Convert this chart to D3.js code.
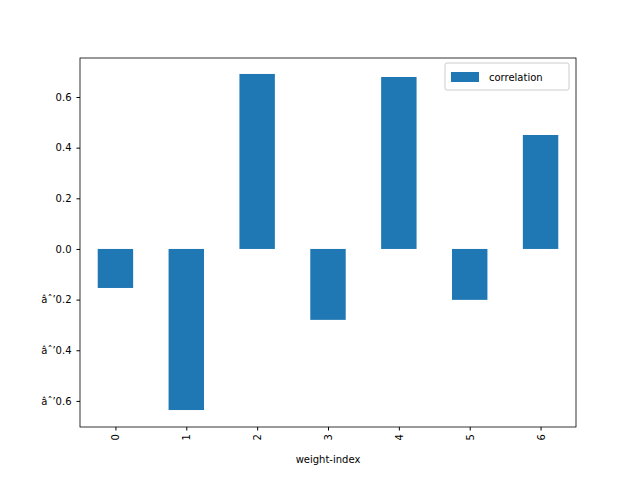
<!DOCTYPE html>
<html>
<head>
<script src="https://cdn.jsdelivr.net/npm/d3@7"></script>
<style>
body { margin: 0; background: #fff; }
text { font-family: "DejaVu Sans", sans-serif; }
</style>
</head>
<body>
<div id="chart"></div>
<script>
var categories = ["0", "1", "2", "3", "4", "5", "6"];
var correlation = [-0.154, -0.636, 0.691, -0.280, 0.679, -0.201, 0.450];
var yTicks = [-0.6, -0.4, -0.2, 0.0, 0.2, 0.4, 0.6];

var width = 640, height = 480;
var margin = { top: 58, right: 64, bottom: 53, left: 80 };
var w = width - margin.left - margin.right;
var h = height - margin.top - margin.bottom;

var svg = d3.select('#chart')
    .append('svg')
    .attr('width', width)
    .attr('height', height);

var g = svg.append('g')
    .attr('transform', 'translate(' + margin.left + ',' + margin.top + ')');

var x = d3.scaleLinear().domain([-0.5, 6.5]).range([0, w]);
var y = d3.scaleLinear().domain([-0.703, 0.754]).range([h, 0]);

g.selectAll('rect.bar')
    .data(correlation)
    .enter()
    .append('rect')
    .attr('class', 'bar')
    .attr('x', (d, i) => x(i - 0.25))
    .attr('width', x(0.25) - x(-0.25))
    .attr('y', d => y(Math.max(0, d)))
    .attr('height', d => Math.abs(y(d) - y(0)))
    .attr('fill', '#1f77b4');

// axes
var yAxis = g.append('g')
    .call(d3.axisLeft(y).tickValues(yTicks).tickFormat(d3.format('.1f')).tickSizeOuter(0).tickSize(3.5).tickPadding(5));
var xAxis = g.append('g')
    .attr('transform', 'translate(0,' + h + ')')
    .call(d3.axisBottom(x).tickValues(d3.range(categories.length)).tickFormat(i => categories[i]).tickSizeOuter(0).tickSize(3.5));
xAxis.selectAll('text')
    .attr('transform', 'rotate(-90)')
    .attr('text-anchor', 'end')
    .attr('x', -7)
    .attr('y', 0)
    .attr('dy', '0.35em');
[yAxis, xAxis].forEach(a => {
    a.select('.domain').remove();
    a.selectAll('text').attr('font-size', 10).attr('fill', '#000').style('font-family', '"DejaVu Sans", sans-serif');
    a.selectAll('line').attr('stroke', '#000');
});

g.append('rect')
    .attr('width', w).attr('height', h)
    .attr('fill', 'none').attr('stroke', '#000').attr('stroke-width', 0.8);

g.append('text')
    .attr('x', w / 2).attr('y', h + 36)
    .attr('text-anchor', 'middle')
    .attr('font-size', 10)
    .text('weight-index');

// legend
var lg = g.append('g').attr('transform', 'translate(' + (w - 131) + ',5)');
lg.append('rect')
    .attr('width', 124).attr('height', 27).attr('rx', 2)
    .attr('fill', '#fff').attr('stroke', '#ccc');
lg.append('rect')
    .attr('x', 6).attr('y', 9).attr('width', 28).attr('height', 10)
    .attr('fill', '#1f77b4');
lg.append('text')
    .attr('x', 44).attr('y', 17.5)
    .attr('font-size', 10)
    .text('correlation');
</script>
</body>
</html>
